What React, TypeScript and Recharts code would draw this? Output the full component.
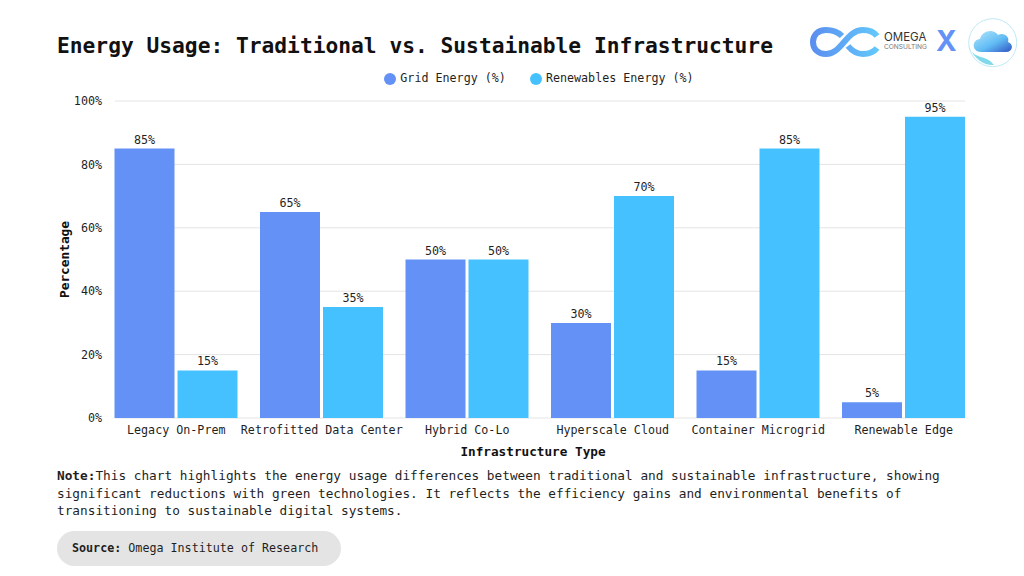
import React from 'react';
import { BarChart, Bar, XAxis, YAxis, CartesianGrid, Legend, LabelList, Label } from 'recharts';

const categories = [
  'Legacy On-Prem',
  'Retrofitted Data Center',
  'Hybrid Co-Lo',
  'Hyperscale Cloud',
  'Container Microgrid',
  'Renewable Edge',
];
const gridEnergy = [85, 65, 50, 30, 15, 5];
const renewablesEnergy = [15, 35, 50, 70, 85, 95];
const yTicks = [0, 20, 40, 60, 80, 100];

const chartData = categories.map((name, i) => ({
  name,
  grid: gridEnergy[i],
  renewables: renewablesEnergy[i],
}));

const MONO = '"DejaVu Sans Mono", "Liberation Mono", monospace';
const TEXT = '#1f1f1f';
const GRID_BLUE = '#6391f5';
const RENEW_BLUE = '#45c1ff';

const pct = (v: number) => `${v}%`;

// gridlines stop at the outer edge of the first and last bars
const GridLine = (props: any) => (
  <line x1={115} x2={965} y1={props.y1} y2={props.y2} stroke="#e4e4e4" strokeWidth={1} />
);

const Logos = () => (
  <svg width={234} height={70} viewBox="0 0 234 70" style={{ position: 'absolute', left: 790, top: 8 }}>
    <defs>
      <linearGradient id="inf" gradientUnits="userSpaceOnUse" x1="20" x2="88" y1="0" y2="0">
        <stop offset="0" stopColor="#5b8def" />
        <stop offset="1" stopColor="#62c8fb" />
      </linearGradient>
      <linearGradient id="cloud" x1="0" x2="1" y1="0" y2="1">
        <stop offset="0" stopColor="#b5e6fc" />
        <stop offset="0.55" stopColor="#62bdf5" />
        <stop offset="1" stopColor="#2f55c4" />
      </linearGradient>
    </defs>
    <path
      d="M52 28 C48 24 43 22 36 22 C28 22 23 27 23 34 C23 41 28 46 36 46 C52 46 56 22 73 22 C79 22 84 24 87 28"
      fill="none"
      stroke="url(#inf)"
      strokeWidth={6}
    />
    <path d="M58 38 C62 43 67 46 73 46 C79 46 84 44 87 40" fill="none" stroke="url(#inf)" strokeWidth={6} />
    <text x={94} y={33} fontFamily="Inter" fontSize={11.5} fill="#333">OMEGA</text>
    <text x={94} y={41} fontFamily="Inter" fontSize={6.6} fill="#777">CONSULTING</text>
    <text x={146} y={43} fontFamily="Inter" fontSize={28} fontWeight={700} fill={GRID_BLUE}>X</text>
    <circle cx={202.7} cy={34.7} r={24} fill="#fff" stroke="#bfe9f5" strokeWidth={1} />
    <path
      d="M191 44 C182 44 181 32 190 31 C192 23 203 20 208 27 C214 24 220 29 218 34 C224 36 223 44 216 44 Z"
      fill="url(#cloud)"
    />
    <path d="M179 38 C183 52 196 46 204 57 C196 58 184 52 179 38 Z" fill="#7fd9ea" />
  </svg>
);

const box = { position: 'absolute', fontFamily: MONO, color: TEXT } as const;

export default function App() {
  return (
    <div style={{ position: 'absolute', left: 0, top: 0, width: 1024, height: 576, background: '#fff', overflow: 'hidden' }}>
      <div style={{ ...box, left: 57, top: 33, fontSize: 21.24, fontWeight: 700, color: '#111', whiteSpace: 'pre' }}>
        Energy Usage: Traditional vs. Sustainable Infrastructure
      </div>
      <Logos />

      <BarChart
        width={1024}
        height={576}
        data={chartData}
        barGap={3}
        barSize={60}
        margin={{ top: 87, right: 47.5, bottom: 108, left: 43.5 }}
      >
        <CartesianGrid vertical={false} horizontal={<GridLine />} />
        <XAxis
          dataKey="name"
          interval={0}
          height={50}
          axisLine={false}
          tickLine={false}
          tickMargin={2}
          tick={{ fontFamily: MONO, fontSize: 11.7, fill: TEXT }}
        >
          <Label
            value="Infrastructure Type"
            position="insideBottom"
            offset={12}
            dx={-7}
            style={{ fontFamily: MONO, fontSize: 12.7, fontWeight: 700, fill: '#111' }}
          />
        </XAxis>
        <YAxis
          width={60}
          domain={[0, 100]}
          ticks={yTicks}
          tickFormatter={pct}
          axisLine={false}
          tickLine={false}
          tickSize={0}
          tickMargin={1.5}
          tick={{ fontFamily: MONO, fontSize: 11.7, fill: TEXT }}
        >
          <Label
            value="Percentage"
            angle={-90}
            position="insideLeft"
            offset={21}
            style={{ fontFamily: MONO, fontSize: 12.8, fontWeight: 700, fill: '#111', textAnchor: 'middle' }}
          />
        </YAxis>
        <Legend
          verticalAlign="top"
          iconType="circle"
          iconSize={12}
          wrapperStyle={{ left: 0, width: 1102, top: 71, fontFamily: MONO, fontSize: 11.7 }}
          formatter={(value: string) => <span style={{ color: TEXT, marginRight: 14 }}>{value}</span>}
        />
        <Bar dataKey="grid" name="Grid Energy (%)" fill={GRID_BLUE} isAnimationActive={false}>
          <LabelList dataKey="grid" position="top" formatter={pct} offset={5} style={{ fontFamily: MONO, fontSize: 11.7, fill: TEXT }} />
        </Bar>
        <Bar dataKey="renewables" name="Renewables Energy (%)" fill={RENEW_BLUE} isAnimationActive={false}>
          <LabelList dataKey="renewables" position="top" formatter={pct} offset={5} style={{ fontFamily: MONO, fontSize: 11.7, fill: TEXT }} />
        </Bar>
      </BarChart>

      <div style={{ ...box, left: 57, top: 467, width: 900, fontSize: 12.75, lineHeight: '17.5px', whiteSpace: 'pre' }}>
        <b>Note:</b>This chart highlights the energy usage differences between traditional and sustainable infrastructure, showing{'\n'}
        significant reductions with green technologies. It reflects the efficiency gains and environmental benefits of{'\n'}
        transitioning to sustainable digital systems.
      </div>
      <div
        style={{
          ...box,
          left: 57,
          top: 531,
          width: 284,
          height: 35,
          borderRadius: 18,
          background: '#e4e4e4',
          fontSize: 11.7,
          lineHeight: '35px',
          paddingLeft: 15,
          boxSizing: 'border-box',
          whiteSpace: 'pre',
        }}
      >
        <b>Source:</b> Omega Institute of Research
      </div>
    </div>
  );
}
